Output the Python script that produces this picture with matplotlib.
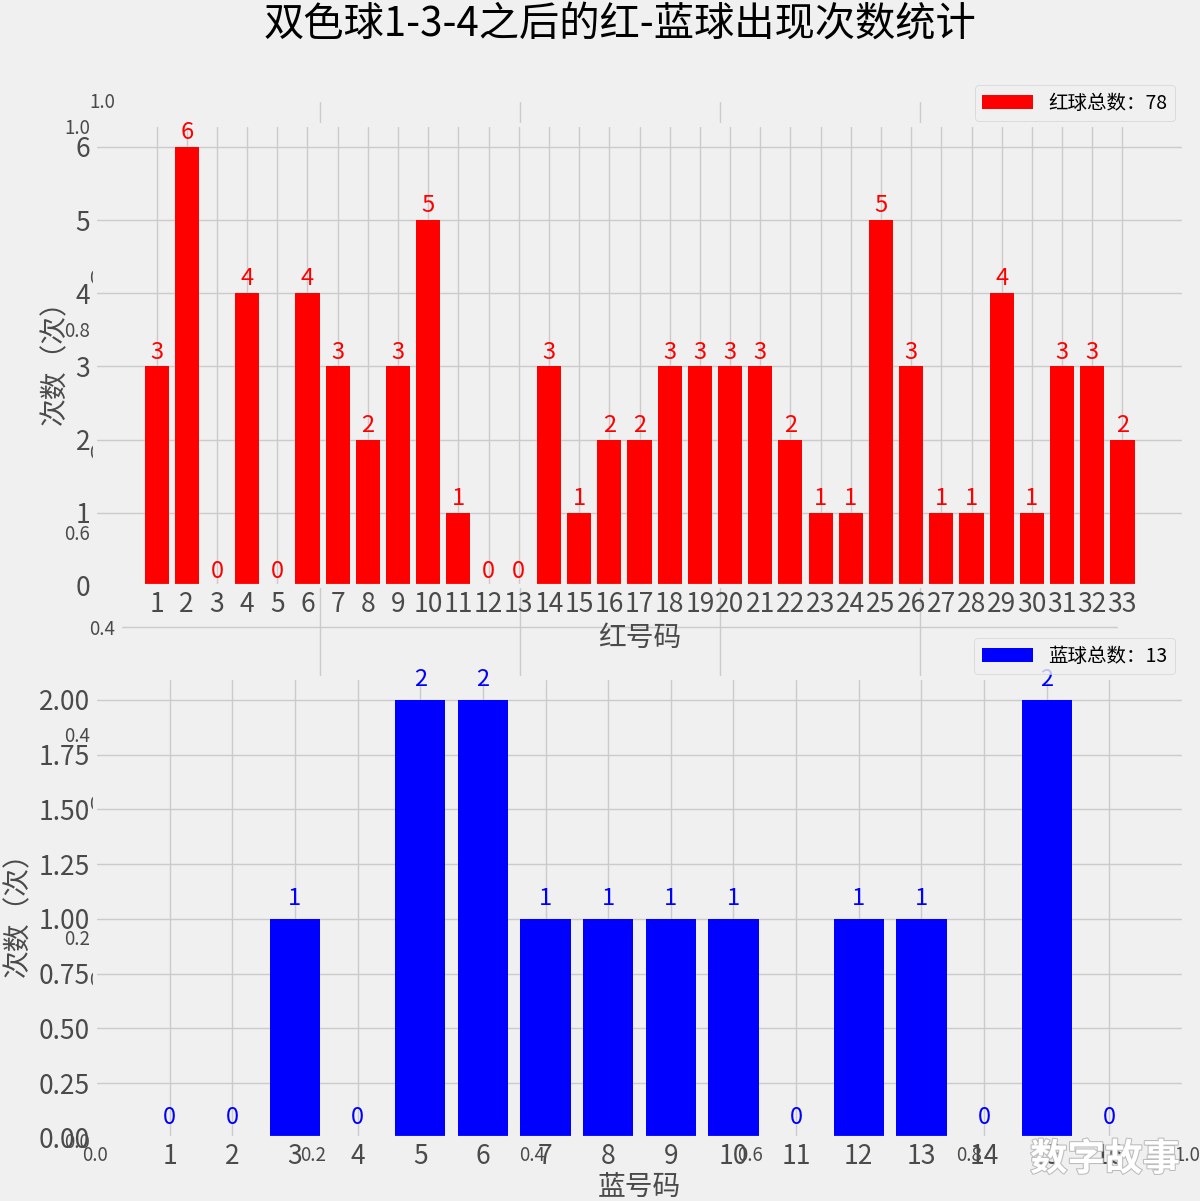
import matplotlib
matplotlib.use('Agg')
import matplotlib.pyplot as plt
import matplotlib.patheffects as pe

# 红球/蓝球号码及出现次数
red_nums = list(range(1, 34))
red_counts = [3, 6, 0, 4, 0, 4, 3, 2, 3, 5, 1, 0, 0, 3, 1, 2, 2, 3, 3, 3, 3,
              2, 1, 1, 5, 3, 1, 1, 4, 1, 3, 3, 2]
blue_nums = list(range(1, 17))
blue_counts = [0, 0, 1, 0, 2, 2, 1, 1, 1, 1, 0, 1, 1, 0, 2, 0]

title = '双色球1-3-4之后的红-蓝球出现次数统计'
red_xlabel = '红号码'
blue_xlabel = '蓝号码'
ylabel = '次数（次）'
watermark = '数字故事'

plt.style.use('fivethirtyeight')
plt.rcParams['font.family'] = ['Noto Sans CJK SC', 'DejaVu Sans']
plt.rcParams['axes.unicode_minus'] = False

GRAY = '#4a4a4a'
W, H = 1200, 1201
fig = plt.figure(figsize=(W / 100, H / 100), dpi=100)


def px_axes(x0, y0, x1, y1):
    # pixel box (top-left origin) -> figure fraction
    return [x0 / W, 1 - y1 / H, (x1 - x0) / W, (y1 - y0) / H]


# leftover empty axes behind the real ones
ax_b = fig.add_axes(px_axes(95, 126, 1187, 1140))
ax_b.tick_params(labelsize=13.5, labelcolor=GRAY)
ax_a = fig.add_axes(px_axes(120, 100, 1120, 978))
ax_a.tick_params(labelsize=13.5, labelcolor=GRAY)
ax_a.set_title(title, fontsize=29, pad=46, color='black')

# 红球
ax1 = fig.add_axes(px_axes(95, 125, 1184, 586))
ax1.bar(red_nums, red_counts, color='red', width=0.8,
        label='红球总数：%d' % sum(red_counts))
for n, c in zip(red_nums, red_counts):
    ax1.text(n, c + 0.04, str(c), ha='center', va='bottom', color='red', fontsize=17)
ax1.set_xticks(red_nums)
ax1.tick_params(labelsize=19, labelcolor=GRAY)
ax1.set_xlabel(red_xlabel, fontsize=20, color=GRAY)
ax1.set_ylabel(ylabel, fontsize=20, color=GRAY)
ax1.legend(loc='lower right', bbox_to_anchor=(0.992, 1.008), borderaxespad=0,
           fontsize=14, handlelength=2.6)

# 蓝球
ax2 = fig.add_axes(px_axes(95, 678, 1184, 1138))
ax2.bar(blue_nums, blue_counts, color='blue', width=0.8,
        label='蓝球总数：%d' % sum(blue_counts))
for n, c in zip(blue_nums, blue_counts):
    ax2.text(n, c + 0.04, str(c), ha='center', va='bottom', color='blue', fontsize=17)
ax2.set_xticks(blue_nums)
ax2.set_yticks([0, 0.25, 0.5, 0.75, 1.0, 1.25, 1.5, 1.75, 2.0])
ax2.tick_params(labelsize=19, labelcolor=GRAY)
ax2.set_xlabel(blue_xlabel, fontsize=20, labelpad=2, color=GRAY)
ax2.set_ylabel(ylabel, fontsize=20, color=GRAY)
ax2.legend(loc='lower right', bbox_to_anchor=(0.992, 1.008), borderaxespad=0,
           fontsize=14, handlelength=2.6)

fig.text(1105 / W, 1 - 1159 / H, watermark, color='white', fontsize=27,
         fontweight='bold', ha='center', va='center',
         path_effects=[pe.withStroke(linewidth=1.5, foreground='#bbbbbb')])

fig.savefig('out.png', dpi=100, facecolor=fig.get_facecolor())
